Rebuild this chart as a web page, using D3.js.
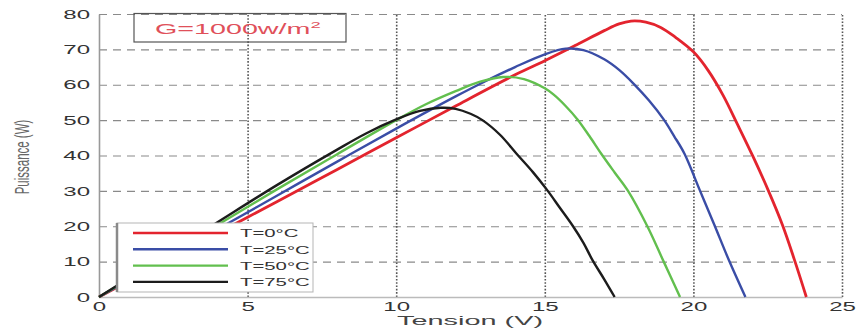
<!DOCTYPE html>
<html>
<head>
<meta charset="utf-8">
<script src="https://cdn.jsdelivr.net/npm/d3@7"></script>
<style>
  body { margin: 0; background: #fff; }
  svg { display: block; }
  text { font-family: Arial, "Liberation Sans", sans-serif; }
</style>
</head>
<body>
<div id="chart"></div>
<script>
const w = 856;
const h = 332;

const xTicks = [0, 5, 10, 15, 20, 25];
const yTicks = [0, 10, 20, 30, 40, 50, 60, 70, 80];
const labels = ["T=0°C", "T=25°C", "T=50°C", "T=75°C"];
const colors = ["#e3242e", "#3a4da6", "#62bf4e", "#1c1c1c"];

// T = 0°C
const tension0   = [0, 2, 4, 6, 8, 10, 12, 14, 15, 16, 17, 17.5, 17.9, 18.4, 18.9, 19.4, 20, 20.5, 21, 21.5, 22, 22.5, 23, 23.4, 23.8];
const puissance0 = [0, 9.1, 18.1, 27, 36, 45, 54, 62.8, 66.8, 71, 75.3, 77.2, 78, 77.7, 76.2, 73.4, 69.3, 64, 57, 48.5, 39.8, 30.5, 20.3, 10.5, 0];
// T = 25°C
const tension25   = [0, 2, 4, 6, 8, 10, 12, 13, 14, 15, 15.7, 16.3, 17, 17.5, 18, 18.5, 19, 19.35, 19.7, 20.2, 20.7, 21.2, 21.75];
const puissance25 = [0, 9.6, 19.2, 28.7, 38.2, 47.6, 56.7, 61, 65, 68.6, 70.2, 69.8, 67.2, 64.2, 60.2, 55.6, 50.2, 45.5, 40.5, 30.5, 20.5, 10.3, 0];
// T = 50°C
const tension50   = [0, 2, 4, 6, 8, 10, 11, 12, 12.8, 13.6, 14.3, 15, 15.3, 15.7, 16.1, 16.5, 16.9, 17.35, 17.8, 18.45, 19, 19.55];
const puissance50 = [0, 10.2, 20.4, 30.5, 40.3, 50, 54.5, 58.2, 60.8, 62.2, 61.6, 59, 57.2, 54, 50.2, 45.5, 40.5, 35.2, 30, 20, 10, 0];
// T = 75°C
const tension75   = [0, 2, 4, 6, 8, 9, 10, 10.8, 11.5, 12, 12.5, 12.9, 13.5, 14.05, 14.6, 15.1, 15.5, 15.95, 16.3, 16.6, 17, 17.35];
const puissance75 = [0, 10.6, 21.2, 31.7, 41.6, 46.3, 50.2, 52.6, 53.5, 53.2, 51.8, 50, 45.8, 40.5, 35.3, 30, 25.3, 20, 15.3, 10.5, 5, 0];

const series = [
  [tension0, puissance0],
  [tension25, puissance25],
  [tension50, puissance50],
  [tension75, puissance75]
];

const svg = d3.select("#chart").append("svg").attr("width", w).attr("height", h);

const x = d3.scaleLinear().domain([0, 25]).range([99, 842]);
const y = d3.scaleLinear().domain([0, 80]).range([297, 14]);
const sx = 1.85; // the picture is stretched sideways

// horizontal dashed grid
svg.append("g")
  .attr("transform", "translate(99,0)")
  .call(d3.axisLeft(y).tickValues(yTicks.slice(1)).tickSize(-(842 - 99)).tickFormat(""))
  .call(g => g.select(".domain").remove())
  .call(g => g.selectAll("line").attr("stroke", "#8a8a8a").attr("stroke-width", 1.1).attr("stroke-dasharray", "8,6"));

// vertical dotted grid
svg.append("g")
  .attr("transform", "translate(0,297)")
  .call(d3.axisBottom(x).tickValues(xTicks.slice(1)).tickSize(-(297 - 14)).tickFormat(""))
  .call(g => g.select(".domain").remove())
  .call(g => g.selectAll("line").attr("stroke", "#555").attr("stroke-width", 1.6).attr("stroke-dasharray", "1.6,1.7"));

// axes
svg.append("g")
  .attr("transform", "translate(0,297)")
  .call(d3.axisBottom(x).tickValues(xTicks).tickSize(0).tickPadding(5))
  .call(g => g.select(".domain").attr("stroke", "#bbb").attr("stroke-width", 1.3))
  .call(g => g.selectAll("text")
    .attr("font-size", 13).attr("fill", "#333")
    .attr("transform", "scale(" + sx + ",1)"));

svg.append("g")
  .attr("transform", "translate(99,0)")
  .call(d3.axisLeft(y).tickValues(yTicks).tickSize(0).tickPadding(9))
  .call(g => g.select(".domain").attr("stroke", "#999").attr("stroke-width", 1.6))
  .call(g => g.selectAll("text")
    .attr("font-size", 13).attr("fill", "#333")
    .attr("x", -9 / sx)
    .attr("transform", "scale(" + sx + ",1)"));

// axis titles
svg.append("text")
  .attr("x", 470).attr("y", 325)
  .attr("text-anchor", "middle")
  .attr("font-size", 13.5)
  .attr("fill", "#444")
  .attr("textLength", 146)
  .attr("lengthAdjust", "spacingAndGlyphs")
  .text("Tension (V)");

svg.append("text")
  .attr("transform", "translate(29,157) scale(1.8,1) rotate(-90)")
  .attr("text-anchor", "middle")
  .attr("font-size", 11.5)
  .attr("fill", "#666")
  .text("Puissance (W)");

// curves
const line = d3.line()
  .x(d => x(d[0]))
  .y(d => y(d[1]))
  .curve(d3.curveCatmullRom.alpha(0.5));

svg.selectAll(".curve")
  .data(series)
  .enter()
  .append("path")
  .attr("class", "curve")
  .attr("fill", "none")
  .attr("stroke", (d, i) => colors[i])
  .attr("stroke-width", (d, i) => i == 0 ? 2.8 : 2.4)
  .attr("stroke-linejoin", "round")
  .attr("d", d => line(d[0].map((v, j) => [v, d[1][j]])));

// legend
const legend = svg.append("g").attr("id", "legend");
legend.append("rect")
  .attr("x", 117).attr("y", 223).attr("width", 196).attr("height", 69)
  .attr("fill", "#fff").attr("stroke", "#b5b5b5").attr("stroke-width", 1);
legend.append("line")
  .attr("x1", 117).attr("x2", 117).attr("y1", 223).attr("y2", 292)
  .attr("stroke", "#8a8a8a").attr("stroke-width", 2.5);

const item = legend.selectAll(".legend-label")
  .data(labels)
  .enter()
  .append("g")
  .attr("class", "legend-label")
  .attr("transform", (d, i) => "translate(0," + (233 + i * 16.3) + ")");

item.append("line")
  .attr("x1", 133).attr("x2", 228)
  .attr("stroke", (d, i) => colors[i])
  .attr("stroke-width", 2.4);

item.append("text")
  .attr("x", 240 / sx).attr("y", 4.2)
  .attr("transform", "scale(" + sx + ",1)")
  .attr("font-size", 11)
  .attr("fill", "#333")
  .text(d => d);

// irradiance note
svg.append("rect")
  .attr("x", 134).attr("y", 13.5).attr("width", 212).attr("height", 28.5)
  .attr("fill", "none").attr("stroke", "#555").attr("stroke-width", 1.2);

const note = svg.append("text")
  .attr("transform", "translate(155,34) scale(2.05,1)")
  .attr("font-size", 14)
  .attr("fill", "#e0505a");
note.append("tspan").text("G=1000w/m");
note.append("tspan").attr("dy", -6).attr("font-size", 9).text("2");
</script>
</body>
</html>
